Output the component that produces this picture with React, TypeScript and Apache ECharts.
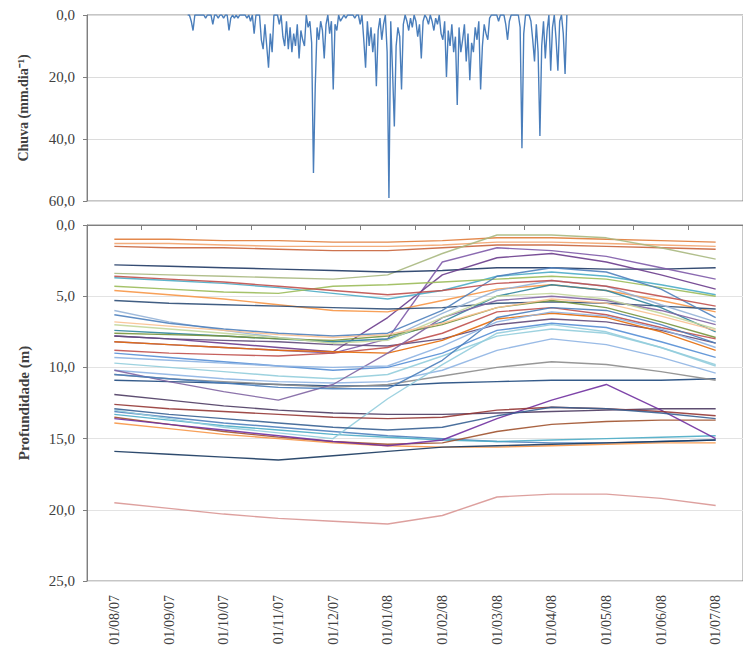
import React, { useEffect, useRef } from "react";
import * as echarts from "echarts";

// ---- Data ----
const months = [
  "01/08/07", "01/09/07", "01/10/07", "01/11/07", "01/12/07", "01/01/08",
  "01/02/08", "01/03/08", "01/04/08", "01/05/08", "01/06/08", "01/07/08",
];

// Daily rainfall (mm/day); day index counted from ~17/07/2007
const RAIN_START_DAY = 56;
const RAIN_AXIS_DAYS = 365;
const rainDaily = [
  0, 0, 2, 5, 0, 0, 0, 0, 0, 0,
  1, 0, 0, 0, 3, 0, 0, 1, 0, 0,
  1, 0, 0, 5, 1, 0, 1, 0, 1, 0,
  0, 0, 0, 1, 0, 2, 0, 6, 0, 0,
  0, 8, 11, 3, 10, 17, 6, 12, 0, 0,
  0, 3, 0, 7, 10, 2, 11, 4, 12, 6,
  10, 3, 14, 5, 8, 10, 0, 4, 2, 9,
  51, 23, 4, 8, 2, 5, 14, 3, 0, 6,
  2, 24, 3, 5, 0, 2, 1, 0, 1, 0,
  0, 0, 0, 1, 0, 0, 3, 0, 8, 17,
  2, 10, 4, 12, 6, 23, 5, 1, 8, 3,
  0, 12, 59, 2, 18, 36, 10, 4, 7, 24,
  3, 0, 2, 5, 1, 4, 0, 2, 7, 3,
  14, 2, 0, 1, 3, 0, 2, 5, 1, 3,
  0, 6, 8, 2, 20, 5, 10, 3, 12, 7,
  29, 4, 12, 8, 3, 15, 6, 21, 9, 12,
  4, 8, 2, 24, 10, 3, 6, 8, 1, 0,
  0, 0, 0, 2, 0, 0, 0, 3, 8, 2,
  0, 0, 0, 0, 0, 4, 43, 6, 0, 0,
  0, 2, 8, 15, 3, 12, 39, 10, 2, 14,
  5, 0, 18, 4, 0, 8, 18, 2, 0, 6,
  19, 0,
];

const rainTicks = [0, 20, 40, 60];
const depthTicks = [0, 5, 10, 15, 20, 25];

// Water-table depth (m) per well, monthly readings
const wellDepths: number[][] = [
  [1.0, 1.0, 1.1, 1.1, 1.2, 1.2, 1.1, 0.9, 0.9, 1.0, 1.1, 1.2],
  [1.5, 1.6, 1.6, 1.7, 1.8, 1.8, 1.6, 1.4, 1.4, 1.5, 1.6, 1.7],
  [1.3, 1.3, 1.4, 1.5, 1.5, 1.5, 1.4, 1.2, 1.2, 1.3, 1.4, 1.5],
  [3.4, 3.5, 3.6, 3.7, 3.8, 3.5, 2.0, 0.7, 0.7, 0.9, 1.6, 2.4],
  [2.8, 2.9, 3.0, 3.1, 3.2, 3.3, 3.2, 3.0, 3.0, 3.1, 3.1, 3.0],
  [8.2, 8.4, 8.6, 8.8, 9.0, 8.0, 2.6, 1.6, 1.8, 2.2, 3.0, 3.8],
  [7.8, 8.0, 8.3, 8.6, 8.9, 6.5, 3.5, 2.3, 2.0, 2.6, 3.5, 4.5],
  [3.7, 3.9, 4.1, 4.4, 4.8, 5.2, 4.6, 3.6, 3.3, 3.6, 4.2, 4.9],
  [4.3, 4.5, 4.7, 4.8, 4.3, 4.2, 4.0, 3.8, 3.6, 3.8, 4.4, 5.0],
  [4.6, 4.9, 5.2, 5.6, 6.0, 6.1, 5.3, 4.5, 4.2, 4.6, 5.3, 6.1],
  [5.3, 5.5, 5.6, 5.7, 5.8, 5.9, 5.8, 5.5, 5.4, 5.5, 5.7, 5.9],
  [6.0, 6.8, 7.4, 7.9, 8.2, 8.0, 6.2, 4.6, 3.9, 4.3, 5.6, 6.8],
  [6.3, 6.9, 7.3, 7.6, 7.8, 7.6, 6.0, 3.6, 3.0, 3.3, 4.5, 6.5],
  [7.4, 7.6, 7.8, 8.0, 8.2, 8.0, 6.8, 5.0, 4.2, 4.6, 5.8, 7.5],
  [7.6, 7.7, 7.8, 8.0, 8.1, 7.8, 7.0, 5.8, 5.3, 5.8, 6.8, 7.9],
  [7.8, 8.0, 8.1, 8.2, 8.4, 8.5, 8.0, 7.0, 6.6, 6.8, 7.4, 8.3],
  [8.8, 9.0, 9.1, 9.2, 9.0, 8.6, 7.6, 6.1, 5.8, 6.3, 7.2, 8.0],
  [8.2, 8.4, 8.6, 8.8, 8.9, 9.0, 8.1, 6.6, 6.2, 6.5, 7.5, 8.8],
  [9.0, 9.3, 9.6, 9.9, 10.2, 10.0, 9.0, 7.4, 6.9, 7.2, 8.2, 9.3],
  [9.7, 10.0, 10.3, 10.6, 10.8, 10.5, 9.2, 7.8, 7.3, 7.6, 8.6, 9.8],
  [10.2, 10.5, 10.8, 11.0, 11.1, 11.0, 10.2, 8.8, 8.0, 8.4, 9.3, 10.4],
  [10.9, 11.0, 11.1, 11.2, 11.3, 11.3, 11.1, 11.0, 10.9, 10.9, 10.9, 10.8],
  [10.5, 10.8, 11.0, 11.2, 11.4, 11.2, 10.6, 10.0, 9.6, 9.8, 10.3, 10.9],
  [10.2, 11.0, 11.7, 12.3, 11.2, 9.0, 6.5, 5.3, 5.0, 5.3, 6.0, 7.0],
  [11.9, 12.3, 12.7, 13.0, 13.2, 13.3, 13.3, 13.2, 13.1, 13.0, 12.9, 12.9],
  [13.1, 13.5, 13.9, 14.2, 14.5, 14.8, 15.0, 15.2, 15.3, 15.3, 15.2, 15.1],
  [13.3, 13.7, 14.1, 14.4, 14.7, 14.9, 15.1, 15.2, 15.1, 15.0, 14.9, 14.8],
  [13.9, 14.3, 14.7, 15.0, 15.3, 15.5, 15.6, 15.6, 15.5, 15.4, 15.3, 15.3],
  [13.5, 14.0, 14.5, 14.9, 15.2, 15.4, 15.3, 14.5, 14.0, 13.8, 13.7, 13.7],
  [13.0, 13.6, 14.2, 14.6, 15.0, 12.2, 9.8, 7.6, 7.0, 7.5, 8.6, 9.9],
  [13.6, 14.0, 14.4, 14.8, 15.2, 15.5, 15.1, 13.6, 12.3, 11.2, 13.0, 15.0],
  [12.6, 12.9, 13.1, 13.3, 13.5, 13.6, 13.5, 13.0, 12.8, 12.9, 13.1, 13.4],
  [12.9, 13.3, 13.6, 13.9, 14.2, 14.4, 14.2, 13.4, 12.8, 12.9, 13.2, 13.6],
  [15.9, 16.1, 16.3, 16.5, 16.2, 15.9, 15.6, 15.5, 15.4, 15.3, 15.2, 15.1],
  [19.5, 19.9, 20.3, 20.6, 20.8, 21.0, 20.4, 19.1, 18.9, 18.9, 19.2, 19.7],
  [7.0, 7.3, 7.6, 7.9, 8.3, 8.1, 6.5, 5.0, 4.8, 5.2, 6.2, 7.3],
  [6.8, 7.1, 7.4, 7.7, 7.9, 7.7, 6.9, 5.8, 5.2, 5.5, 6.4, 7.4],
  [10.5, 10.8, 11.1, 11.4, 11.5, 11.5, 9.5, 6.5, 5.8, 6.0, 7.0, 8.3],
  [9.3, 9.5, 9.7, 9.9, 10.0, 9.9, 8.5, 6.8, 6.1, 6.4, 7.3, 8.6],
  [3.6, 3.8, 4.0, 4.3, 4.6, 4.9, 4.6, 4.1, 3.9, 4.3, 5.0, 5.7],
];

// ---- Styles ----
const wellColors = [
  "#E07B39", "#C8643C", "#F2A46E", "#A9B87F", "#1F3864",
  "#7E5AA8", "#6A3C8C", "#4BACC6", "#9BBB59", "#F79646",
  "#2C4D75", "#95B3D7", "#4F81BD", "#31859C", "#77933C",
  "#5F497A", "#C0504D", "#E46C0A", "#558ED5", "#92CDDC",
  "#8EB4E3", "#1F497D", "#8C8C8C", "#8064A2", "#4D3B62",
  "#4F81BD", "#4BACC6", "#F79646", "#A0522D", "#93CDDD",
  "#7030A0", "#953735", "#376092", "#17375E", "#D99694",
  "#C3D69B", "#FAC090", "#4A7EBB", "#8DB3E2", "#C0504D",
];

const fmt = (v: number) => v.toFixed(1).replace(".", ",");
const FONT = "Liberation Serif";
const TEXT = "#404040";

export default function App() {
  const ref = useRef<HTMLDivElement>(null);

  useEffect(() => {
    if (!ref.current) return;
    const chart = echarts.init(ref.current, undefined, { renderer: "svg" });

    const rainData = rainDaily.map((v, i) => [RAIN_START_DAY + i, v]);

    const depthSeriesList = wellDepths.map((vals, i) => ({
      type: "line",
      name: "P" + (i + 1),
      xAxisIndex: 1,
      yAxisIndex: 1,
      data: vals,
      showSymbol: false,
      symbol: "none",
      lineStyle: { width: 1.4, color: wellColors[i % wellColors.length], opacity: 0.9 },
      itemStyle: { color: wellColors[i % wellColors.length] },
    }));

    chart.setOption({
      animation: false,
      backgroundColor: "#ffffff",
      textStyle: { fontFamily: FONT },
      grid: [
        {
          left: 87, top: 15, width: 666, height: 186,
          show: true, borderColor: "#8c8c8c", borderWidth: 1,
        },
        {
          left: 87, top: 225, width: 666, height: 356,
          show: true, borderColor: "#8c8c8c", borderWidth: 1,
        },
      ],
      xAxis: [
        {
          gridIndex: 0,
          type: "value",
          min: 0,
          max: RAIN_AXIS_DAYS,
          show: false,
        },
        {
          gridIndex: 1,
          type: "category",
          data: months,
          boundaryGap: true,
          axisLine: { show: true, lineStyle: { color: "#7f7f7f", width: 1 } },
          axisTick: { show: true, interval: 0, length: 5, lineStyle: { color: "#7f7f7f" } },
          axisLabel: {
            interval: 0,
            rotate: 90,
            margin: 14,
            fontFamily: FONT,
            fontSize: 14,
            color: TEXT,
          },
          splitLine: { show: false },
        },
      ],
      yAxis: [
        {
          gridIndex: 0,
          type: "value",
          inverse: true,
          min: 0,
          max: 60,
          interval: 20,
          name: "Chuva (mm.dia⁻¹)",
          nameLocation: "middle",
          nameGap: 57,
          nameTextStyle: { fontFamily: FONT, fontWeight: "bold", fontSize: 14, color: TEXT },
          axisLine: { show: true, lineStyle: { color: "#7f7f7f" } },
          axisTick: { show: true, length: 4, lineStyle: { color: "#7f7f7f" } },
          axisLabel: {
            fontFamily: FONT, fontSize: 15, color: TEXT, margin: 12,
            formatter: (v: number) => (rainTicks.includes(v) ? fmt(v) : ""),
          },
          splitLine: { show: true, lineStyle: { color: "#dcdcdc", width: 1 } },
        },
        {
          gridIndex: 1,
          type: "value",
          inverse: true,
          min: 0,
          max: 25,
          interval: 5,
          name: "Profundidade (m)",
          nameLocation: "middle",
          nameGap: 56,
          nameTextStyle: { fontFamily: FONT, fontWeight: "bold", fontSize: 15, color: TEXT },
          axisLine: { show: true, lineStyle: { color: "#7f7f7f" } },
          axisTick: { show: true, length: 4, lineStyle: { color: "#7f7f7f" } },
          axisLabel: {
            fontFamily: FONT, fontSize: 15, color: TEXT, margin: 12,
            formatter: (v: number) => (depthTicks.includes(v) ? fmt(v) : ""),
          },
          splitLine: { show: true, lineStyle: { color: "#e3e3e3", width: 1 } },
        },
      ],
      series: [
        {
          type: "line",
          name: "Chuva",
          xAxisIndex: 0,
          yAxisIndex: 0,
          data: rainData,
          showSymbol: false,
          symbol: "none",
          lineStyle: { width: 1.4, color: "#4A7EBB" },
          itemStyle: { color: "#4A7EBB" },
        },
        ...depthSeriesList,
      ],
    });

    return () => chart.dispose();
  }, []);

  return (
    <div
      ref={ref}
      style={{ position: "absolute", left: 0, top: 0, width: 743, height: 656 }}
    />
  );
}
